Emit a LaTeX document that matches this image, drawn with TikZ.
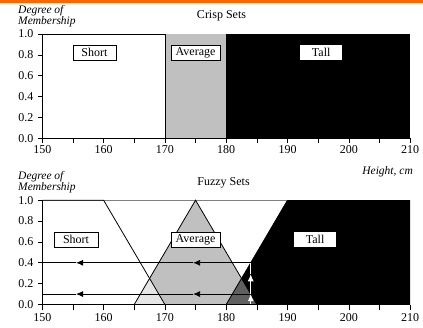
\documentclass[tikz,border=0pt]{standalone}
\usepackage{fontspec}
\setmainfont{Liberation Serif}
\usetikzlibrary{arrows.meta}
\definecolor{orng}{HTML}{FF6600}
\definecolor{avgc}{HTML}{C0C0C0}
\definecolor{litec}{HTML}{E6E6E6}
\definecolor{darkc}{HTML}{606060}
\definecolor{topc}{HTML}{808080}
\tikzset{
  lbl/.style={font=\fontsize{12}{13}\selectfont},
  ylab/.style={lbl, anchor=east, inner sep=0pt},
  xlab/.style={lbl, anchor=north, inner sep=0pt},
  setbox/.style={lbl, draw=black, fill=white, line width=0.8pt, minimum height=15pt, inner sep=1pt},
  axis/.style={line width=0.9pt, black},
  tick/.style={line width=0.6pt, black},
  ital/.style={font=\fontsize{11.5}{10.5}\selectfont\itshape, align=left, inner sep=0pt},
  arr/.style={line width=0.8pt, -{Latex[length=7pt,width=6pt]}},
  warr/.style={white, line width=1pt, -{Latex[length=7pt,width=6pt]}},
}
\begin{document}
\begin{tikzpicture}[x=1pt,y=1pt]
\useasboundingbox (0,0) rectangle (423,327);
\fill[orng] (0,324) rectangle (423,327);

% ---------------- Crisp sets ----------------
\node[ital, anchor=north west] (dm1) at (18,321.5) {Degree of\\Membership};
\node[lbl] (ttl1) at (221.5,311.5) {Crisp Sets};
\begin{scope}[xshift=-877.2pt, yshift=188.7pt, x=6.13pt, y=104.3pt]
  \fill[white] (150,0) rectangle (170,1);
  \fill[avgc] (170,0) rectangle (180,1);
  \fill[black] (180,0) rectangle (210,1);
  \draw[line width=0.6pt] (150,1) -- (170,1);
  \draw[line width=0.8pt] (170,0) -- (170,1);
  \draw[axis] (150,1) -- (150,0) -- (210,0);
  \foreach \h in {150,155,...,210} \draw[tick] (\h,0) -- ++(0,-5pt);
  \foreach \m in {0.0,0.2,0.4,0.6,0.8,1.0} {
    \draw[tick] (150,\m) -- ++(-4pt,0);
    \node[ylab] (ya\m) at (33.6pt+877.2pt,\m) {\m};
  }
  \foreach \h in {150,160,...,210} \node[xlab] (xa\h) at (\h,0) [yshift=-7.5pt] {\h};
  \node[setbox, minimum width=43pt] (s1) at (158.5,0.82) {Short};
  \node[setbox, minimum width=49pt] (a1) at (175,0.82) {Average};
  \node[setbox, draw=none, minimum width=42pt] (t1) at (195.5,0.82) {Tall};
\end{scope}
\node[ital, anchor=east] (hc) at (413,155) {Height, cm};

% ---------------- Fuzzy sets ----------------
\node[ital, anchor=north west] (dm2) at (18,155.5) {Degree of\\Membership};
\node[lbl] (ttl2) at (223.5,144) {Fuzzy Sets};
\begin{scope}[xshift=-877.2pt, yshift=22.5pt, x=6.13pt, y=104.3pt]
  \fill[avgc] (165,0) -- (175,1) -- (185,0) -- cycle;
  \fill[black] (180,0) -- (190,1) -- (210,1) -- (210,0) -- cycle;
  \fill[litec] (165,0) -- (167.5,0.25) -- (170,0) -- cycle;
  \fill[darkc] (180,0) -- (182.5,0.25) -- (185,0) -- cycle;
  \draw[topc, line width=0.9pt] (150,1) -- (190,1);
  \draw[line width=0.8pt] (165,0) -- (175,1) -- (185,0);
  \draw[line width=0.8pt] (150,1) -- (160,1) -- (170,0);
  \draw[line width=0.8pt] (180,0) -- (190,1);
  % horizontal read-off lines
  \coordinate (v4) at (184,0.4);
  \coordinate (p4) at (174.6,0.4);
  \coordinate (q4) at (155.5,0.4);
  \coordinate (l4) at (150,0.4);
  \coordinate (v1) at (184,0.1);
  \coordinate (p1) at (174.6,0.1);
  \coordinate (q1) at (155.5,0.1);
  \coordinate (l1) at (150,0.1);
  \coordinate (v0) at (184,0);
  \coordinate (u1) at (184,0.1);
  \coordinate (u3) at (184,0.29);
  \draw[arr] (v4) -- (p4);
  \draw[arr] (p4) -- (q4);
  \draw[line width=0.8pt] (q4) -- (l4);
  \draw[arr] (v1) -- (p1);
  \draw[arr] (p1) -- (q1);
  \draw[line width=0.8pt] (q1) -- (l1);
  \draw[warr] (v0) -- (u1);
  \draw[warr] (u1) -- (u3);
  \draw[white, line width=1pt] (u3) -- (v4);
  \draw[axis] (150,1) -- (150,0) -- (210,0);
  \foreach \h in {150,155,...,210} \draw[tick] (\h,0) -- ++(0,-5pt);
  \foreach \m in {0.0,0.2,0.4,0.6,0.8,1.0} {
    \draw[tick] (150,\m) -- ++(-4pt,0);
    \node[ylab] (yb\m) at (33.6pt+877.2pt,\m) {\m};
  }
  \foreach \h in {150,160,...,210} \node[xlab] (xb\h) at (\h,0) [yshift=-8.5pt] {\h};
  \node[setbox, minimum width=44pt] (s2) at (155.5,0.62) {Short};
  \node[setbox, minimum width=49pt] (a2) at (175,0.62) {Average};
  \node[setbox, draw=none, minimum width=42pt] (t2) at (194.5,0.62) {Tall};
\end{scope}
\end{tikzpicture}
\end{document}
